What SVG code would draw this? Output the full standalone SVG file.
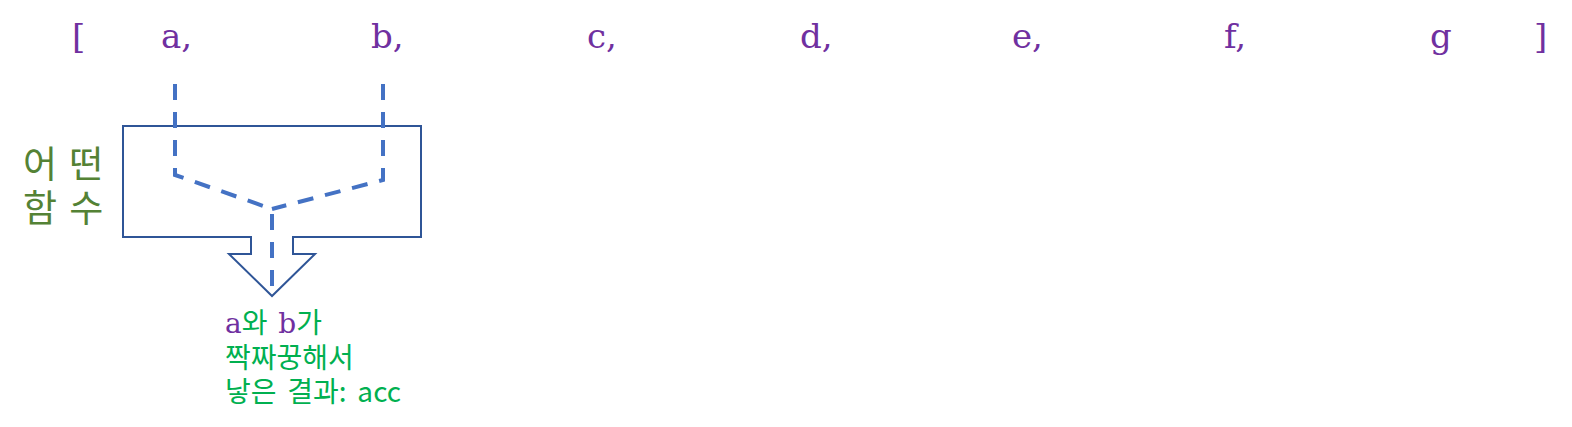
<svg xmlns="http://www.w3.org/2000/svg" width="1572" height="427" viewBox="0 0 1572 427">
<style>
.item{font-family:"DejaVu Serif","Liberation Serif",serif;font-size:34px;fill:#7030A0}
.lbl{font-family:"Noto Sans CJK KR","Noto Sans",sans-serif;font-size:37px;fill:#548235;word-spacing:4px}
.res{font-family:"Noto Sans CJK KR","Noto Sans",sans-serif;font-size:28px;fill:#00B050;word-spacing:4.5px}
.ser{font-family:"DejaVu Serif","Liberation Serif",serif;fill:#7030A0}
.box{fill:none;stroke:#2F5597;stroke-width:2}
.dash{fill:none;stroke:#4472C4;stroke-width:4;stroke-dasharray:16 12}
</style>
<rect width="1572" height="427" fill="#ffffff"/>
<g id="list">
<text class="item" x="72" y="48">[</text>
<text class="item" x="161" y="48">a,</text>
<text class="item" x="371" y="48">b,</text>
<text class="item" x="587" y="48">c,</text>
<text class="item" x="800" y="48">d,</text>
<text class="item" x="1012" y="48">e,</text>
<text class="item" x="1224" y="48">f,</text>
<text class="item" x="1430" y="48">g</text>
<text class="item" x="1534" y="48">]</text>
</g>
<g id="func">
<path class="box" d="M123,126 H421 V237 H293 V254 H315 L272,296 L229,254 H251 V237 H123 Z"/>
<text class="lbl"><tspan x="23" y="178">어 떤</tspan><tspan x="23" y="222">함 수</tspan></text>
</g>
<g id="connectors">
<path class="dash" d="M175,84 V175 L272,209"/>
<path class="dash" d="M383,84 V180 L272,209"/>
<path class="dash" d="M272,214 V290"/>
</g>
<g id="result">
<text class="res"><tspan x="225" y="333"><tspan class="ser">a</tspan>와 <tspan class="ser">b</tspan>가</tspan><tspan x="225" y="368">짝짜꿍해서</tspan><tspan x="225" y="402">낳은 결과: acc</tspan></text>
</g>
</svg>
